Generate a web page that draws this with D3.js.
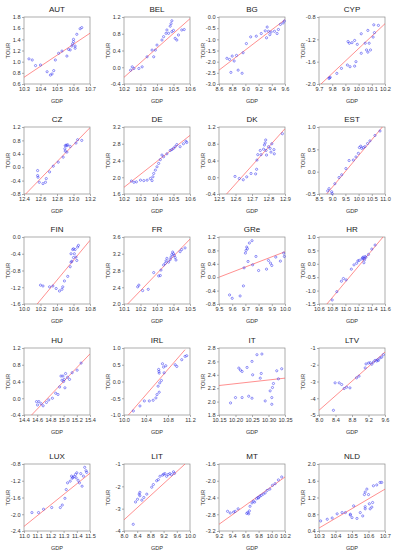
<!DOCTYPE html>
<html>
<head>
<meta charset="utf-8">
<script src="https://cdn.jsdelivr.net/npm/d3@7"></script>
<style>
  body { margin: 0; background: #fff; }
  svg { font-family: "Liberation Sans", Arial, sans-serif; }
</style>
</head>
<body>
<svg id="chart" width="395" height="550"></svg>
<script>
// Pays (ordre de lecture, 4 colonnes x 5 lignes)
const countries = ["AUT", "BEL", "BG", "CYP", "CZ", "DE", "DK", "EST", "FIN", "FR",
                   "GRe", "HR", "HU", "IRL", "IT", "LTV", "LUX", "LIT", "MT", "NLD"];

// Graduations (libellés tels qu'affichés)
const xTickLabels = [
  ["10.3", "10.4", "10.5", "10.6", "10.7"],
  ["10.2", "10.3", "10.4", "10.5", "10.6"],
  ["8.6", "8.8", "9.0", "9.2", "9.4", "9.6"],
  ["9.7", "9.8", "9.9", "10.0", "10.1", "10.2"],
  ["12.4", "12.6", "12.8", "13.0", "13.2"],
  ["10.2", "10.3", "10.4", "10.5", "10.6"],
  ["12.5", "12.6", "12.7", "12.8", "12.9"],
  ["8.5", "9.0", "9.5", "10.0", "10.5", "11.0"],
  ["10.0", "10.2", "10.4", "10.6", "10.8"],
  ["10.1", "10.2", "10.3", "10.4", "10.5"],
  ["9.5", "9.6", "9.7", "9.8", "9.9", "10.0"],
  ["10.6", "10.8", "11.0", "11.2", "11.4", "11.6"],
  ["14.4", "14.6", "14.8", "15.0", "15.2", "15.4"],
  ["10.0", "10.4", "10.8", "11.2"],
  ["10.15", "10.20", "10.25", "10.30", "10.35"],
  ["8.0", "8.4", "8.8", "9.2", "9.6"],
  ["11.0", "11.1", "11.2", "11.3", "11.4", "11.5"],
  ["8.0", "8.4", "8.8", "9.2", "9.6", "10.0"],
  ["9.2", "9.4", "9.6", "9.8", "10.0", "10.2"],
  ["10.3", "10.4", "10.5", "10.6", "10.7"]
];
const yTickLabels = [
  ["0.6", "0.8", "1.0", "1.2", "1.4", "1.6", "1.8"],
  ["-0.4", "0.0", "0.4", "0.8", "1.2"],
  ["-3.0", "-2.5", "-2.0", "-1.5", "-1.0", "-0.5", "0.0"],
  ["-2.0", "-1.6", "-1.2", "-0.8"],
  ["-0.8", "-0.4", "0.0", "0.4", "0.8", "1.2"],
  ["1.6", "2.0", "2.4", "2.8", "3.2"],
  ["-0.4", "0.0", "0.4", "0.8", "1.2"],
  ["-0.5", "0.0", "0.5", "1.0"],
  ["-1.6", "-1.2", "-0.8", "-0.4", "0.0"],
  ["2.0", "2.4", "2.8", "3.2", "3.6"],
  ["-0.8", "-0.4", "0.0", "0.4", "0.8", "1.2"],
  ["-1.5", "-1.0", "-0.5", "0.0", "0.5", "1.0"],
  ["-0.4", "0.0", "0.4", "0.8", "1.2"],
  ["-1.0", "-0.5", "0.0", "0.5", "1.0"],
  ["1.8", "2.0", "2.2", "2.4", "2.6", "2.8"],
  ["-5", "-4", "-3", "-2", "-1"],
  ["-2.4", "-2.0", "-1.6", "-1.2", "-0.8"],
  ["-4", "-3", "-2", "-1"],
  ["-3.2", "-2.8", "-2.4", "-2.0", "-1.6"],
  ["0.4", "0.8", "1.2", "1.6", "2.0"]
];

// Nuages de points [GDP, TOUR]
const pointsAUT = [[10.33,1.05],[10.35,1.03],[10.37,0.93],[10.40,0.94],[10.44,0.82],[10.46,0.76],[10.47,0.78],[10.48,0.84],[10.49,1.03],[10.51,1.15],[10.53,1.19],[10.56,1.10],[10.57,1.22],[10.58,1.21],[10.59,1.28],[10.595,1.32],[10.60,1.36],[10.60,1.40],[10.61,1.28],[10.61,1.24],[10.62,1.49],[10.64,1.59],[10.65,1.61]];
const pointsBEL = [[10.24,-0.07],[10.25,0.01],[10.26,-0.03],[10.29,-0.03],[10.31,0.01],[10.34,0.25],[10.37,0.41],[10.38,0.25],[10.39,0.41],[10.40,0.53],[10.43,0.65],[10.44,0.73],[10.455,0.81],[10.46,0.89],[10.47,0.81],[10.48,0.98],[10.485,1.04],[10.49,1.11],[10.49,0.85],[10.50,0.88],[10.51,0.69],[10.52,0.65],[10.53,0.77],[10.55,0.89],[10.565,0.90]];
const pointsBG = [[8.72,-1.85],[8.76,-1.90],[8.80,-1.75],[8.83,-1.97],[8.865,-1.72],[8.78,-2.48],[8.89,-2.38],[8.95,-2.52],[8.965,-1.6],[9.015,-1.19],[9.08,-0.89],[9.165,-0.86],[9.24,-0.74],[9.30,-0.62],[9.35,-0.64],[9.33,-0.45],[9.32,-0.93],[9.37,-0.79],[9.39,-0.67],[9.44,-0.64],[9.48,-0.74],[9.50,-0.56],[9.53,-0.33],[9.57,-0.27],[9.59,-0.18]];
const pointsCYP = [[9.775,-1.90],[9.78,-1.89],[9.785,-1.88],[9.835,-1.81],[9.87,-1.72],[9.915,-1.66],[9.935,-1.69],[9.97,-1.68],[9.98,-1.60],[9.92,-1.24],[9.93,-1.27],[9.95,-1.26],[9.97,-1.22],[9.99,-1.29],[10.02,-1.45],[10.02,-1.10],[10.05,-1.27],[10.06,-1.39],[10.07,-1.43],[10.08,-1.27],[10.09,-1.39],[10.07,-1.04],[10.11,-1.16],[10.12,-1.08],[10.115,-0.94],[10.15,-0.95]];
const pointsCZ = [[12.565,-0.10],[12.565,-0.25],[12.57,-0.30],[12.585,-0.45],[12.63,-0.49],[12.66,-0.45],[12.67,-0.34],[12.71,-0.14],[12.755,0.03],[12.815,0.15],[12.875,0.30],[12.895,0.55],[12.90,0.64],[12.91,0.66],[12.92,0.64],[12.93,0.67],[12.90,0.48],[12.92,0.45],[12.96,0.62],[13.03,0.72],[13.05,0.82],[13.10,0.80]];
const pointsDE = [[10.245,1.91],[10.26,1.88],[10.275,1.89],[10.30,1.93],[10.32,1.92],[10.34,1.93],[10.36,1.97],[10.37,1.92],[10.375,2.01],[10.38,2.09],[10.39,2.17],[10.40,2.25],[10.41,2.33],[10.42,2.42],[10.43,2.53],[10.44,2.49],[10.46,2.56],[10.48,2.64],[10.49,2.66],[10.50,2.69],[10.51,2.73],[10.52,2.78],[10.54,2.73],[10.56,2.80],[10.575,2.86],[10.58,2.83]];
const pointsDK = [[12.597,0.02],[12.623,-0.03],[12.647,-0.06],[12.668,0.01],[12.694,0.09],[12.722,0.08],[12.728,0.19],[12.73,0.41],[12.735,0.54],[12.75,0.64],[12.755,0.54],[12.77,0.67],[12.775,0.77],[12.78,0.82],[12.783,0.89],[12.785,0.64],[12.788,0.53],[12.80,0.73],[12.81,0.69],[12.815,0.60],[12.82,0.80],[12.833,0.66],[12.835,0.56],[12.884,1.04]];
const pointsEST = [[8.83,-0.43],[8.88,-0.38],[8.98,-0.45],[9.0,-0.49],[9.1,-0.27],[9.26,-0.13],[9.36,-0.07],[9.52,0.07],[9.64,0.25],[9.8,0.26],[9.9,0.33],[9.99,0.41],[10.03,0.54],[10.08,0.57],[10.12,0.52],[10.18,0.54],[10.24,0.56],[10.34,0.63],[10.43,0.69],[10.62,0.81],[10.81,0.91]];
const pointsFIN = [[10.20,-1.15],[10.23,-1.17],[10.31,-1.19],[10.35,-1.17],[10.39,-1.23],[10.43,-1.29],[10.46,-1.25],[10.47,-1.19],[10.49,-1.05],[10.53,-0.94],[10.56,-0.71],[10.57,-0.60],[10.58,-0.58],[10.57,-0.40],[10.59,-0.30],[10.60,-0.28],[10.60,-0.49],[10.61,-0.40],[10.62,-0.30],[10.63,-0.48],[10.65,-0.24],[10.64,-0.56],[10.66,-0.20]];
const pointsFR = [[10.183,2.41],[10.19,2.45],[10.213,2.32],[10.247,2.35],[10.28,2.75],[10.31,2.67],[10.32,2.68],[10.324,2.81],[10.34,2.93],[10.35,2.97],[10.355,3.03],[10.36,3.09],[10.37,3.0],[10.38,3.06],[10.385,3.12],[10.39,3.18],[10.395,3.24],[10.40,3.20],[10.405,3.16],[10.41,3.11],[10.415,3.05],[10.44,3.25],[10.45,3.30],[10.47,3.34]];
const pointsGRe = [[9.58,-0.53],[9.60,-0.63],[9.66,-0.56],[9.685,-0.26],[9.69,0.28],[9.70,0.72],[9.705,0.80],[9.715,0.85],[9.71,0.90],[9.72,0.47],[9.73,1.02],[9.75,1.09],[9.755,0.37],[9.78,0.62],[9.80,0.20],[9.86,0.24],[9.875,0.50],[9.89,0.42],[9.90,0.35],[9.93,0.60],[9.965,0.48],[9.99,0.72],[9.995,0.62]];
const pointsHR = [[10.80,-1.35],[10.87,-1.04],[10.94,-0.65],[10.97,-0.55],[11.01,-0.60],[11.09,-0.20],[11.13,-0.04],[11.17,0.02],[11.19,0.11],[11.21,0.13],[11.25,0.18],[11.26,0.22],[11.27,0.25],[11.28,0.20],[11.29,0.15],[11.28,0.04],[11.30,0.27],[11.31,0.24],[11.35,0.35],[11.40,0.55],[11.45,0.70]];
const pointsHU = [[14.59,-0.08],[14.605,-0.16],[14.625,-0.08],[14.66,-0.13],[14.69,-0.18],[14.74,-0.10],[14.775,-0.04],[14.83,0.0],[14.88,0.12],[14.915,0.09],[14.94,0.27],[14.96,0.53],[14.975,0.43],[14.99,0.53],[15.0,0.40],[15.01,0.45],[15.03,0.59],[15.02,0.25],[15.06,0.50],[15.09,0.45],[15.13,0.61],[15.205,0.67],[15.265,0.84]];
const pointsIRL = [[10.17,-0.88],[10.29,-0.73],[10.37,-0.58],[10.46,-0.58],[10.53,-0.56],[10.58,-0.49],[10.60,-0.39],[10.64,-0.32],[10.62,-0.14],[10.65,-0.04],[10.68,0.03],[10.63,0.36],[10.635,0.30],[10.64,0.25],[10.70,0.53],[10.72,0.43],[10.76,0.47],[10.73,0.26],[10.93,0.50],[10.96,0.45],[11.05,0.65],[11.11,0.75],[11.14,0.77]];
const pointsIT = [[10.185,1.98],[10.20,2.06],[10.21,2.50],[10.215,2.47],[10.22,2.45],[10.22,2.06],[10.235,2.51],[10.24,2.08],[10.25,2.05],[10.25,2.60],[10.252,2.40],[10.265,2.70],[10.28,2.71],[10.278,2.42],[10.275,2.35],[10.29,2.01],[10.305,2.16],[10.31,2.06],[10.31,1.96],[10.312,2.21],[10.315,2.27],[10.325,2.46],[10.33,2.34],[10.34,2.49]];
const pointsLTV = [[8.35,-4.72],[8.39,-3.08],[8.49,-3.08],[8.55,-3.18],[8.61,-3.42],[8.67,-3.34],[8.75,-3.38],[8.91,-2.78],[8.97,-2.68],[9.12,-2.19],[9.14,-1.95],[9.20,-1.90],[9.24,-1.88],[9.28,-1.97],[9.32,-1.84],[9.36,-1.74],[9.40,-1.78],[9.42,-1.70],[9.44,-1.74],[9.48,-1.59],[9.52,-1.55],[9.56,-1.40]];
const pointsLUX = [[11.06,-1.96],[11.11,-1.96],[11.148,-1.88],[11.21,-1.84],[11.275,-1.84],[11.29,-1.78],[11.31,-1.62],[11.32,-1.41],[11.33,-1.25],[11.35,-1.21],[11.36,-1.09],[11.365,-1.14],[11.37,-1.12],[11.38,-1.10],[11.39,-1.05],[11.395,-1.13],[11.40,-1.01],[11.41,-1.19],[11.42,-1.25],[11.43,-1.03],[11.44,-1.33],[11.45,-1.09],[11.46,-0.88],[11.47,-0.96],[11.475,-1.0]];
const pointsLIT = [[8.28,-3.7],[8.35,-2.7],[8.41,-2.58],[8.46,-2.35],[8.48,-2.27],[8.48,-2.42],[8.54,-2.62],[8.60,-2.50],[8.69,-2.35],[8.84,-2.04],[8.89,-1.92],[8.99,-1.75],[9.04,-1.70],[9.09,-1.55],[9.17,-1.50],[9.20,-1.46],[9.24,-1.43],[9.29,-1.55],[9.34,-1.47],[9.39,-1.43],[9.44,-1.48],[9.50,-1.35],[9.53,-1.42]];
const pointsMT = [[9.33,-2.73],[9.37,-2.77],[9.42,-2.75],[9.445,-2.73],[9.49,-2.67],[9.62,-2.78],[9.635,-2.76],[9.65,-2.79],[9.66,-2.72],[9.67,-2.61],[9.70,-2.53],[9.72,-2.49],[9.74,-2.51],[9.77,-2.43],[9.79,-2.40],[9.80,-2.41],[9.82,-2.37],[9.84,-2.35],[9.87,-2.32],[9.90,-2.29],[9.93,-2.23],[9.97,-2.20],[10.01,-2.11],[10.05,-2.07],[10.10,-1.98],[10.15,-1.91]];
const pointsNLD = [[10.31,0.64],[10.35,0.68],[10.38,0.71],[10.41,0.81],[10.44,0.84],[10.46,0.84],[10.49,0.80],[10.50,0.72],[10.51,1.0],[10.49,0.78],[10.53,0.70],[10.55,0.84],[10.565,0.76],[10.58,0.93],[10.58,0.98],[10.575,1.27],[10.58,1.33],[10.59,1.40],[10.60,1.27],[10.605,1.05],[10.61,0.93],[10.62,0.97],[10.625,1.08],[10.63,1.48],[10.65,1.50],[10.67,1.56],[10.68,1.56]];

// Droites de régression : [x0, y0, x1, y1]
const fitLines = [
  [10.3, 0.72, 10.7, 1.51],
  [10.2, -0.24, 10.6, 1.16],
  [8.6, -2.38, 9.6, -0.12],
  [9.715, -2.0, 10.2, -0.92],
  [12.42, -0.8, 13.2, 1.18],
  [10.2, 1.76, 10.6, 3.0],
  [12.546, -0.4, 12.9, 1.16],
  [8.79, -0.5, 10.9, 1.0],
  [10.16, -1.6, 10.8, -0.08],
  [10.122, 2.0, 10.5, 3.55],
  [9.5, 0.0, 10.0, 0.76],
  [10.72, -1.5, 11.57, 1.0],
  [14.515, -0.4, 15.4, 1.06],
  [10.08, -1.0, 11.11, 0.95],
  [10.15, 2.24, 10.35, 2.35],
  [8.0, -4.72, 9.6, -1.24],
  [11.0, -2.29, 11.5, -1.02],
  [8.0, -3.5, 9.85, -1.0],
  [9.2, -3.04, 10.2, -1.91],
  [10.3, 0.47, 10.7, 1.40]
];

const panelPoints = [pointsAUT, pointsBEL, pointsBG, pointsCYP, pointsCZ, pointsDE, pointsDK, pointsEST,
                     pointsFIN, pointsFR, pointsGRe, pointsHR, pointsHU, pointsIRL, pointsIT, pointsLTV,
                     pointsLUX, pointsLIT, pointsMT, pointsNLD];

// Mise en page
const colLeft = [24, 124, 219, 319];
const rowTop = [17, 127, 237, 348, 464];
const boxW = 66, boxH = 67;

var svg = d3.select("#chart");
var textColor = "#333";

countries.forEach(function (name, i) {
  var col = i % 4, row = Math.floor(i / 4);
  var g = svg.append("g").attr("transform", `translate(${colLeft[col]}, ${rowTop[row]})`);

  var xt = xTickLabels[i].map(Number);
  var yt = yTickLabels[i].map(Number);

  var x = d3.scaleLinear().domain([xt[0], xt[xt.length - 1]]).range([0, boxW]);
  var y = d3.scaleLinear().domain([yt[0], yt[yt.length - 1]]).range([boxH, 0]);

  // Zone de découpe pour la droite
  g.append("clipPath").attr("id", "clip" + i)
    .append("rect").attr("width", boxW).attr("height", boxH);

  // Axes
  var xAxis = g.append("g")
    .attr("transform", `translate(0, ${boxH})`)
    .call(d3.axisBottom(x).tickValues(xt).tickFormat((d, k) => xTickLabels[i][k]).tickSize(2).tickPadding(1.5));
  var yAxis = g.append("g")
    .call(d3.axisLeft(y).tickValues(yt).tickFormat((d, k) => yTickLabels[i][k]).tickSize(2).tickPadding(1.5));

  [xAxis, yAxis].forEach(function (a) {
    a.select(".domain").remove();
    a.selectAll("line").attr("stroke", "#777").attr("stroke-width", 0.6);
    a.selectAll("text").attr("font-size", 5.6).attr("fill", textColor)
      .attr("font-family", "'Liberation Sans', Arial, sans-serif");
  });

  // Cadre
  g.append("rect")
    .attr("width", boxW).attr("height", boxH)
    .attr("fill", "none").attr("stroke", "#8a8a8a").attr("stroke-width", 0.7);

  // Droite ajustée
  var fl = fitLines[i];
  g.append("line")
    .attr("clip-path", `url(#clip${i})`)
    .attr("x1", x(fl[0])).attr("y1", y(fl[1]))
    .attr("x2", x(fl[2])).attr("y2", y(fl[3]))
    .attr("stroke", "#ff5a5a").attr("stroke-width", 0.8).attr("stroke-opacity", 0.85);

  // Points
  g.selectAll(".pt")
    .data(panelPoints[i])
    .enter()
    .append("circle")
    .attr("class", "pt")
    .attr("cx", d => x(d[0]))
    .attr("cy", d => y(d[1]))
    .attr("r", 1.1)
    .attr("fill", "none")
    .attr("stroke", "#3b3bf0")
    .attr("stroke-width", 0.55);

  // Titre et libellés d'axes
  g.append("text")
    .attr("x", boxW / 2).attr("y", -5.5)
    .attr("text-anchor", "middle")
    .attr("font-size", 8).attr("fill", "#222")
    .text(name);

  g.append("text")
    .attr("x", boxW / 2).attr("y", boxH + 19)
    .attr("text-anchor", "middle")
    .attr("font-size", 5.6).attr("fill", textColor)
    .text("GDP");

  g.append("text")
    .attr("transform", `translate(-14, ${boxH / 2}) rotate(-90)`)
    .attr("text-anchor", "middle")
    .attr("font-size", 5.6).attr("fill", textColor)
    .text("TOUR");
});
</script>
</body>
</html>
